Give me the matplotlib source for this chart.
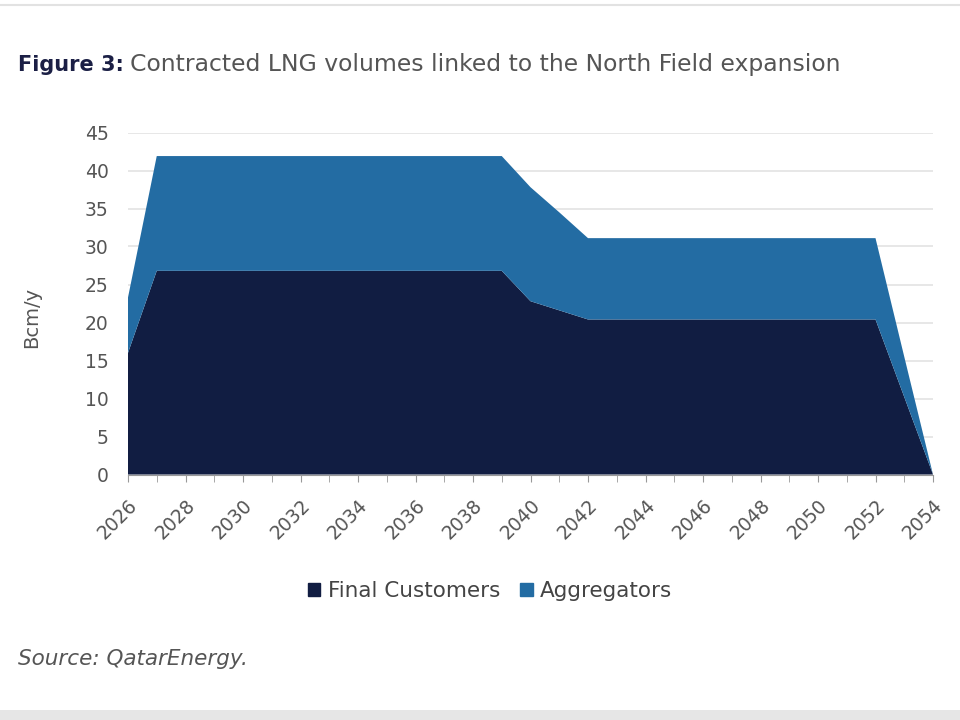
import matplotlib
matplotlib.use("Agg")
import matplotlib.pyplot as plt
import matplotlib.patches as mpatches
import numpy as np

# ── data ─────────────────────────────────────────────────────────────────
years = list(range(2026, 2055))
final_customers = [16.0] + [26.8] * 13 + [22.8, 21.6] + [20.4] * 11 + [10.2, 0.0]
total_contracted = [23.3] + [41.9] * 13 + [37.8, 34.5] + [31.1] * 11 + [15.5, 0.0]
aggregators = [t - f for t, f in zip(total_contracted, final_customers)]

series_names = ["Final Customers", "Aggregators"]
colors = ["#111d42", "#236ca3"]

plt.rcParams["font.family"] = ["DejaVu Sans"]
GREY = "#555555"

fig = plt.figure(figsize=(9.6, 7.2), dpi=100)
fig.patch.set_facecolor("white")
ax = fig.add_axes([128 / 960, 1 - 474.5 / 720, (933 - 128) / 960, (474.5 - 132.5) / 720])

ax.stackplot(years, final_customers, aggregators, colors=colors,
             labels=series_names, linewidth=0, zorder=2)

ax.set_xlim(2026, 2054)
ax.set_ylim(0, 45)
ax.set_yticks(np.arange(0, 46, 5))
ax.set_xticks(years, minor=True)
ax.set_xticks(years[::2])
ax.set_xticklabels([str(y) for y in years[::2]], rotation=45, ha="right",
                   rotation_mode="anchor", fontsize=13.5, color=GREY)
ax.tick_params(axis="y", length=0, labelsize=13.5, labelcolor=GREY, pad=14)
ax.tick_params(axis="x", which="both", length=5, color="#999999", pad=10)
ax.grid(axis="y", color="#e3e3e3", linewidth=1.2, zorder=0)
for s in ["top", "right", "left"]:
    ax.spines[s].set_visible(False)
ax.spines["bottom"].set_color("#999999")
ax.set_ylabel("Bcm/y", fontsize=14, color=GREY)
ax.yaxis.set_label_coords(-0.108, 0.46)

# title: bold label followed by regular text
renderer = fig.canvas.get_renderer()
t1 = fig.text(18 / 960, 1 - 65 / 720, "Figure 3:", fontsize=15, fontweight="bold",
              color="#1b1f45", va="center", ha="left")
x_end = t1.get_window_extent(renderer).x1
fig.text((x_end + 6) / 960, 1 - 65 / 720,
         "Contracted LNG volumes linked to the North Field expansion",
         fontsize=16.9, color="#555555", va="center", ha="left")

# legend
handles = [mpatches.Patch(color=c, label=n) for c, n in zip(colors, series_names)]
fig.legend(handles=handles, loc="center", bbox_to_anchor=(490 / 960, 1 - 591 / 720),
           ncol=2, frameon=False, fontsize=15.5, labelcolor="#444444",
           handlelength=0.6, handleheight=0.6, handletextpad=0.35, columnspacing=0.9)

# source
fig.text(18 / 960, 1 - 659 / 720, "Source: QatarEnergy.", fontsize=15.5, style="italic",
         color="#555555", va="center", ha="left")

# frame lines top/bottom
fig.add_artist(plt.Line2D([0, 1], [1 - 5 / 720, 1 - 5 / 720], color="#e2e2e2", linewidth=1.5))
fig.add_artist(mpatches.Rectangle((0, 0), 1, 10 / 720, transform=fig.transFigure,
                                  facecolor="#e6e6e6", edgecolor="none"))

fig.savefig("out.png", dpi=100, facecolor="white")
